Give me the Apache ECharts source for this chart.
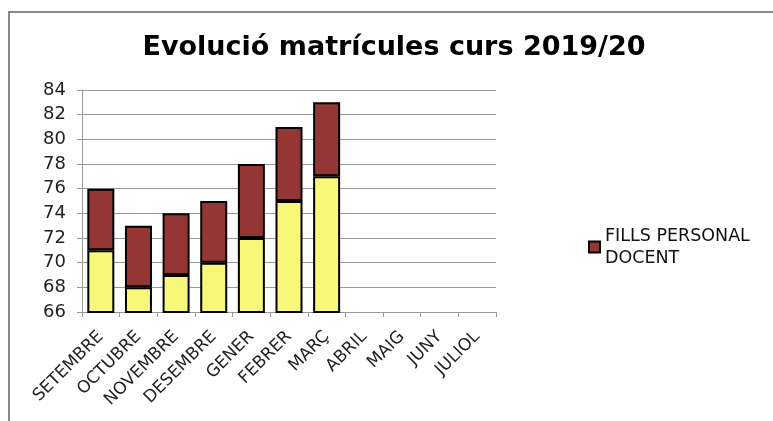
<!DOCTYPE html>
<html>
<head>
<meta charset="utf-8">
<script src="https://cdn.jsdelivr.net/npm/echarts@6/dist/echarts.min.js"></script>
<style>
html, body { margin: 0; padding: 0; background: #fff; }
#chart { width: 773px; height: 421px; }
</style>
</head>
<body>
<div id="chart"></div>
<script>
// dades del gràfic
const months = ['SETEMBRE', 'OCTUBRE', 'NOVEMBRE', 'DESEMBRE', 'GENER', 'FEBRER', 'MARÇ', 'ABRIL', 'MAIG', 'JUNY', 'JULIOL']
const baseValues = [71, 68, 69, 70, 72, 75, 77, 0, 0, 0, 0]
const fillsValues = [5, 5, 5, 5, 6, 6, 6, 0, 0, 0, 0]
const yTicks = [66, 68, 70, 72, 74, 76, 78, 80, 82, 84]

const font = 'Verdana, "DejaVu Sans", sans-serif'

const chart = echarts.init(document.getElementById('chart'))
chart.setOption({
    animation: false,
    graphic: [{
        type: 'polyline',
        shape: { points: [[9, 430], [9, 12], [780, 12]] },
        style: { stroke: '#888', lineWidth: 2, fill: null },
        silent: true
    }],
    title: {
        text: 'Evolució matrícules curs 2019/20',
        left: 389,
        top: 29,
        textAlign: 'center',
        textStyle: {
            fontFamily: '"DejaVu Sans", sans-serif',
            fontWeight: 'bold',
            fontSize: 27,
            color: '#000'
        }
    },
    legend: {
        data: ['FILLS PERSONAL DOCENT'],
        left: 583,
        top: 220,
        itemWidth: 11,
        itemHeight: 11,
        itemGap: 4,
        icon: 'rect',
        formatter: function () { return 'FILLS PERSONAL\nDOCENT' },
        textStyle: { fontFamily: font, fontSize: 17.5, color: '#111', lineHeight: 22 }
    },
    grid: { left: 82, top: 90, width: 414, height: 222 },
    xAxis: {
        type: 'category',
        data: months,
        axisLine: { lineStyle: { color: '#999' } },
        axisTick: { show: true, length: 5, lineStyle: { color: '#999' } },
        axisLabel: {
            rotate: 45,
            interval: 0,
            margin: 22,
            fontFamily: font,
            fontSize: 17,
            color: '#222'
        }
    },
    yAxis: {
        type: 'value',
        min: yTicks[0],
        max: yTicks[yTicks.length - 1],
        interval: 2,
        axisLine: { show: true, lineStyle: { color: '#999' } },
        axisTick: { show: true, length: 5, lineStyle: { color: '#999' } },
        splitLine: { lineStyle: { color: '#999' } },
        axisLabel: { fontFamily: font, fontSize: 18, color: '#222', margin: 16 }
    },
    series: [{
        name: 'BASE',
        type: 'bar',
        stack: 'total',
        barWidth: 27,
        data: baseValues,
        itemStyle: { color: '#F7F779', borderColor: '#000', borderWidth: 2 }
    }, {
        name: 'FILLS PERSONAL DOCENT',
        type: 'bar',
        stack: 'total',
        barWidth: 27,
        data: fillsValues,
        itemStyle: { color: '#943634', borderColor: '#000', borderWidth: 2 }
    }]
})
</script>
</body>
</html>
